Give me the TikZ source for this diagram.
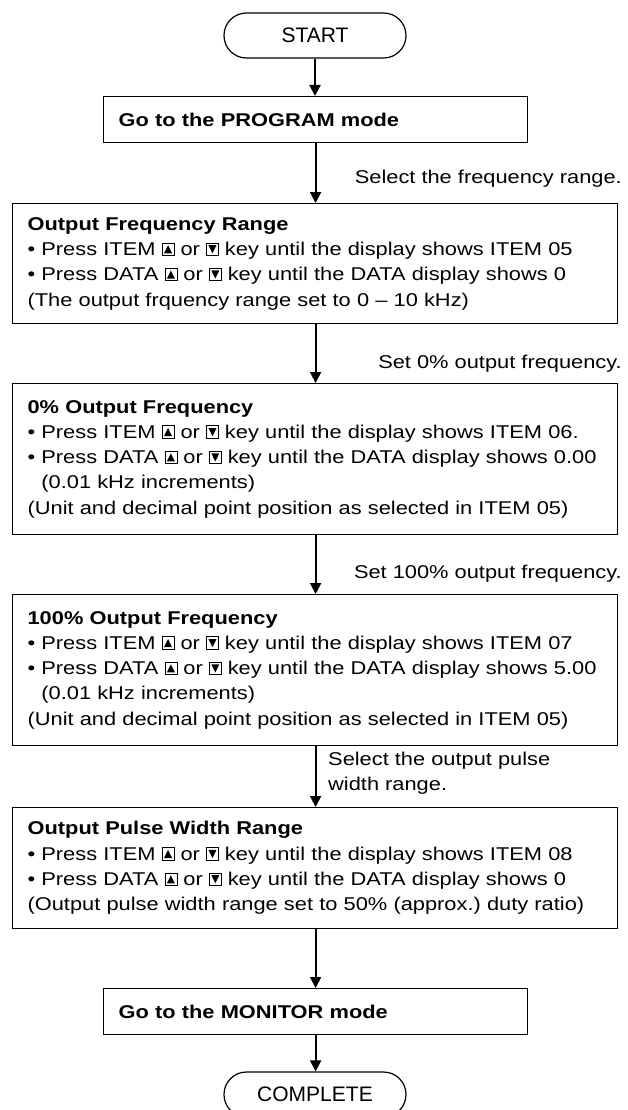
\documentclass[tikz,border=0pt]{standalone}
\usepackage{fontspec}
\setmainfont[FakeStretch=1.18]{Liberation Sans}
\newfontfamily\termfont{Liberation Sans}
\usetikzlibrary{arrows.meta}
\frenchspacing
\newcommand{\keyup}{\tikz[baseline=0pt]{\draw[line width=0.7pt] (0pt,0pt) rectangle (12pt,12.5pt); \fill (2pt,2.2pt) -- (10pt,2.2pt) -- (6pt,10.3pt) -- cycle;}}
\newcommand{\keydown}{\tikz[baseline=0pt]{\draw[line width=0.7pt] (0pt,0pt) rectangle (12pt,12.5pt); \fill (2pt,10.3pt) -- (10pt,10.3pt) -- (6pt,2.2pt) -- cycle;}}
\newcommand{\bul}{\textbullet\ }
\begin{document}
\begin{tikzpicture}[x=1pt,y=-1pt,
  font=\fontsize{18.5pt}{25.3pt}\selectfont,
  box/.style={draw, line width=1.2pt, inner xsep=15pt, inner ysep=0pt, align=left, anchor=north west},
  term/.style={draw, line width=1.2pt, rounded corners=22.4pt, minimum width=182pt, minimum height=45pt, inner sep=0pt, font=\termfont\fontsize{21pt}{25pt}\selectfont},
  flow/.style={line width=1.9pt, -{Triangle[length=11pt,width=11pt]}},
  lab/.style={inner sep=0pt, anchor=base east},
  lab2/.style={inner sep=0pt, anchor=north west, align=left}]
\useasboundingbox (0,0) rectangle (627,1110);

\node[term] (start) at (315,35.5) {START};

\node[box, minimum width=424pt, minimum height=46pt, text width=394pt] (b1) at (103,96) {\textbf{Go to the PROGRAM mode}};

\node[box, minimum width=605pt, minimum height=120pt, text width=575pt] (b2) at (12,203) {%
\textbf{Output Frequency Range}\\
\bul Press ITEM \keyup{} or \keydown{} key until the display shows ITEM 05\\
\bul Press DATA \keyup{} or \keydown{} key until the DATA display shows 0\\
(The output frquency range set to 0 – 10 kHz)};

\node[box, minimum width=605pt, minimum height=151pt, text width=575pt] (b3) at (12,383) {%
\textbf{0\% Output Frequency}\\
\bul Press ITEM \keyup{} or \keydown{} key until the display shows ITEM 06.\\
\bul Press DATA \keyup{} or \keydown{} key until the DATA display shows 0.00\\
\phantom{\bul}(0.01 kHz increments)\\
(Unit and decimal point position as selected in ITEM 05)};

\node[box, minimum width=605pt, minimum height=151pt, text width=575pt] (b4) at (12,594) {%
\textbf{100\% Output Frequency}\\
\bul Press ITEM \keyup{} or \keydown{} key until the display shows ITEM 07\\
\bul Press DATA \keyup{} or \keydown{} key until the DATA display shows 5.00\\
\phantom{\bul}(0.01 kHz increments)\\
(Unit and decimal point position as selected in ITEM 05)};

\node[box, minimum width=605pt, minimum height=121pt, text width=575pt] (b5) at (12,807) {%
\textbf{Output Pulse Width Range}\\
\bul Press ITEM \keyup{} or \keydown{} key until the display shows ITEM 08\\
\bul Press DATA \keyup{} or \keydown{} key until the DATA display shows 0\\
(Output pulse width range set to 50\% (approx.) duty ratio)};

\node[box, minimum width=424pt, minimum height=46pt, text width=394pt] (b6) at (103,988) {\textbf{Go to the MONITOR mode}};

\node[term] (end) at (315,1094.5) {COMPLETE};

\draw[flow] (start.south) -- (start.south |- b1.north);
\draw[flow] (b1.south) -- (b1.south |- b2.north);
\draw[flow] (b1.south |- b2.south) -- (b1.south |- b3.north);
\draw[flow] (b1.south |- b3.south) -- (b1.south |- b4.north);
\draw[flow] (b1.south |- b4.south) -- (b1.south |- b5.north);
\draw[flow] (b6.north |- b5.south) -- (b6.north);
\draw[flow] (b6.south) -- (b6.south |- end.north);

\node[lab] (l1) at (622,183.5) {Select the frequency range.};
\node[lab] (l2) at (622,368.5) {Set 0\% output frequency.};
\node[lab] (l3) at (622,578.5) {Set 100\% output frequency.};
\node[lab2] (l4) at (328,752) {Select the output pulse\\width range.};
\end{tikzpicture}
\end{document}
